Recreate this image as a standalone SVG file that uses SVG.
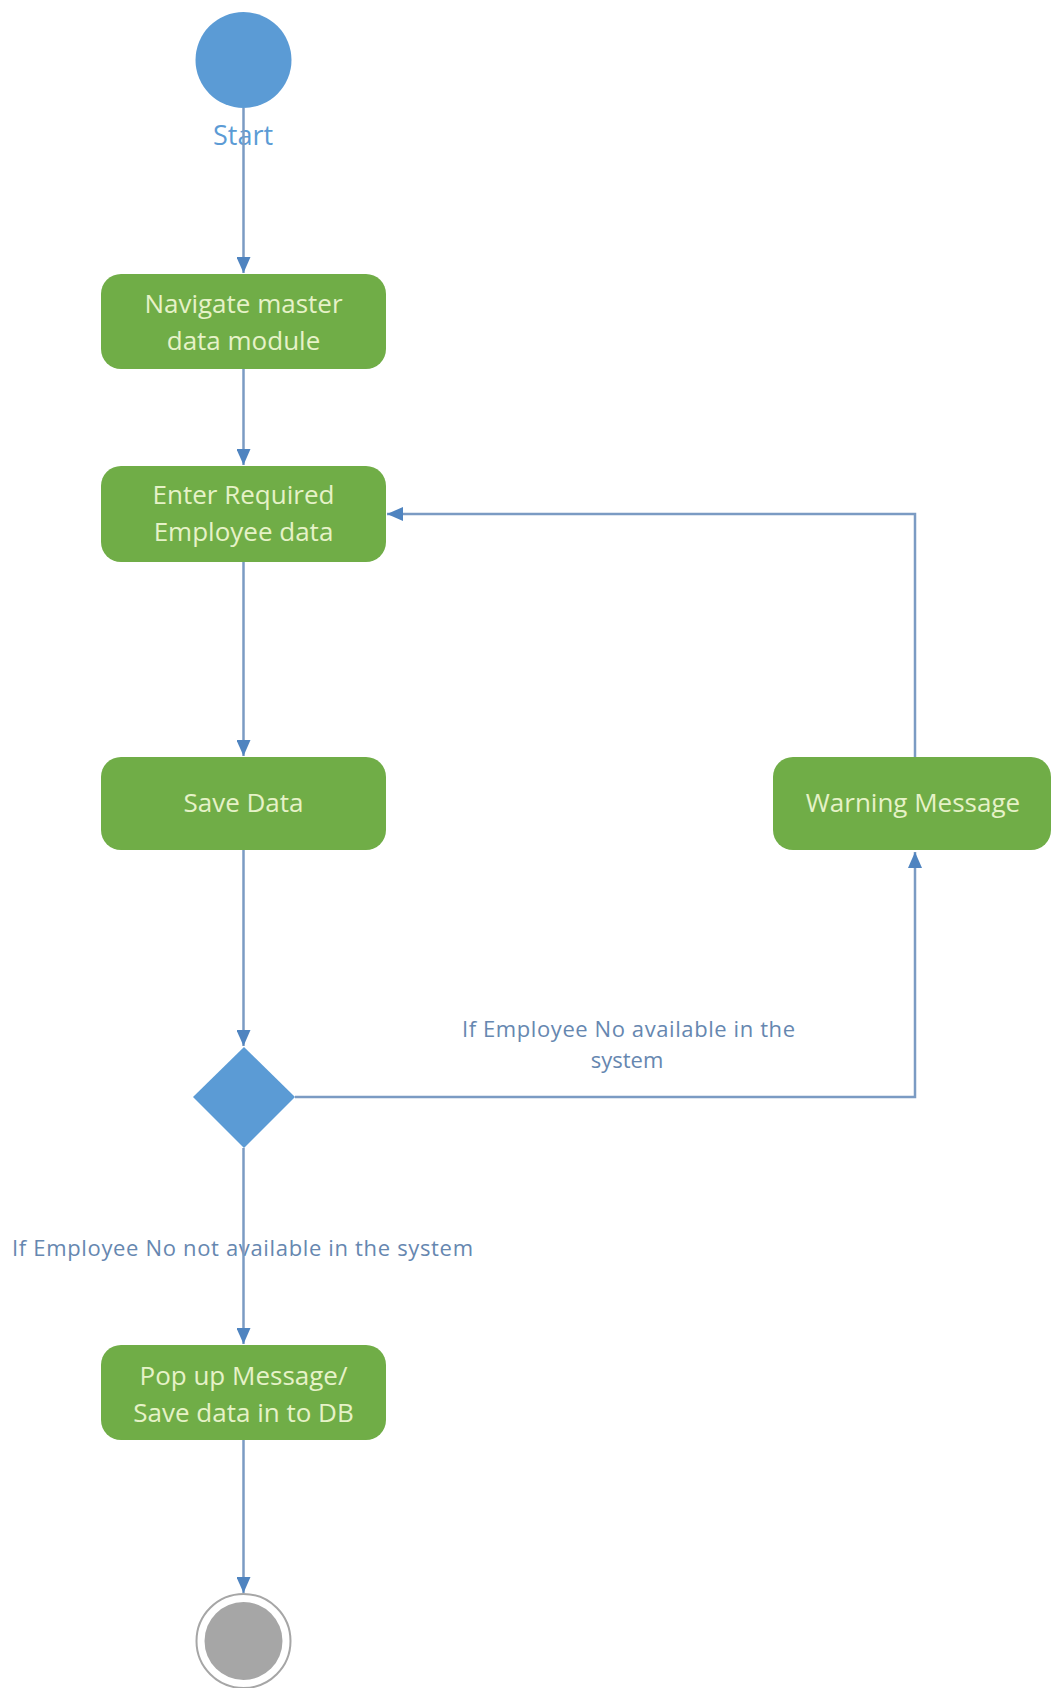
<svg xmlns="http://www.w3.org/2000/svg" width="1052" height="1688" viewBox="0 0 1052 1688">
<defs>
<marker id="arr" markerUnits="userSpaceOnUse" markerWidth="16" markerHeight="14" viewBox="0 0 16 14" refX="16" refY="7" orient="auto">
<path d="M0,0 L16,7 L0,14 Z" fill="#4f84c0"/>
</marker>
<style>
.act{fill:#70ad47;}
.at{font-family:"Open Sans","Liberation Sans",sans-serif;font-size:26px;fill:#e6f2c8;text-anchor:middle;}
.lbl{font-family:"Open Sans","Liberation Sans",sans-serif;font-size:22px;fill:#6687b0;}
.con{fill:none;stroke:#7b9bc3;stroke-width:2.5;}
</style>
</defs>
<rect width="1052" height="1688" fill="#ffffff"/>
<g id="start">
<circle cx="243.5" cy="60" r="48" fill="#5b9bd5"/>
<text x="243" y="145" font-family="Open Sans, Liberation Sans, sans-serif" font-size="27" fill="#5b9bd5" text-anchor="middle">Start</text>
</g>
<g id="navigate">
<rect class="act" x="101" y="274" width="285" height="95" rx="20"/>
<text class="at" x="243.5" y="313">Navigate master</text>
<text class="at" x="243.5" y="350">data module</text>
</g>
<g id="enter">
<rect class="act" x="101" y="466" width="285" height="96" rx="20"/>
<text class="at" x="243.5" y="504">Enter Required</text>
<text class="at" x="243.5" y="541">Employee  data</text>
</g>
<g id="save">
<rect class="act" x="101" y="757" width="285" height="93" rx="20"/>
<text class="at" x="243.5" y="812">Save Data</text>
</g>
<g id="warning">
<rect class="act" x="773" y="757" width="278" height="93" rx="20"/>
<text class="at" x="913" y="812">Warning Message</text>
</g>
<g id="decision">
<polygon points="244,1047 295,1097 244,1148 193,1097" fill="#5b9bd5"/>
</g>
<g id="popup">
<rect class="act" x="101" y="1345" width="285" height="95" rx="20"/>
<text class="at" x="243.5" y="1385">Pop  up Message/</text>
<text class="at" x="243.5" y="1422">Save data in to DB</text>
</g>
<g id="end">
<circle cx="243.5" cy="1641" r="47" fill="#ffffff" stroke="#a6a6a6" stroke-width="2"/>
<circle cx="243.5" cy="1641" r="39" fill="#a6a6a6"/>
</g>
<g id="labels">
<text class="lbl" x="462" y="1037" textLength="333" lengthAdjust="spacing">If Employee No available in the</text>
<text class="lbl" x="627" y="1068" text-anchor="middle">system</text>
<text class="lbl" x="12" y="1256" textLength="461" lengthAdjust="spacing">If Employee No  not available in the system</text>
</g>
<g id="connectors">
<line class="con" x1="243.5" y1="108" x2="243.5" y2="273" marker-end="url(#arr)"/>
<line class="con" x1="243.5" y1="369" x2="243.5" y2="465" marker-end="url(#arr)"/>
<line class="con" x1="243.5" y1="562" x2="243.5" y2="756" marker-end="url(#arr)"/>
<line class="con" x1="243.5" y1="850" x2="243.5" y2="1046" marker-end="url(#arr)"/>
<polyline class="con" points="295,1097 915,1097 915,852" marker-end="url(#arr)"/>
<polyline class="con" points="915,757 915,514 387,514" marker-end="url(#arr)"/>
<line class="con" x1="243.5" y1="1148" x2="243.5" y2="1344" marker-end="url(#arr)"/>
<line class="con" x1="243.5" y1="1440" x2="243.5" y2="1593" marker-end="url(#arr)"/>
</g>
</svg>
